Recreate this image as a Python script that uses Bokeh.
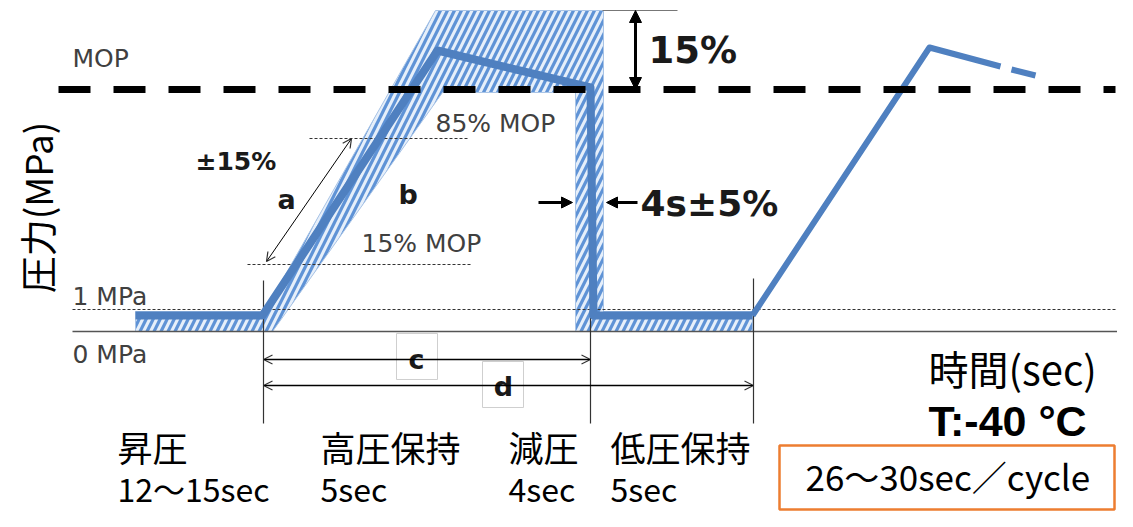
import math
from bokeh.plotting import figure
from bokeh.models import Range1d, Arrow, OpenHead, NormalHead, ColumnDataSource
from bokeh.core.properties import value
from bokeh.embed import file_html
from bokeh.resources import INLINE

# ---- schematic data (t: time-axis units, 0 = start of pressure rise; lvl: pressure-axis units, 0 = 0 MPa)
LVL_1MPA = 22
LVL_15MOP = 67
LVL_85MOP = 193
LVL_MOP = 242
LVL_TOP = 321          # MOP + 15 %

# pressure profile, first cycle
profile_t = [-127, 0, 175, 328, 331, 490]
profile_lvl = [16, 16, 281, 244, 16, 16]
# second cycle (rise + start of high hold)
cycle2_t = [490, 667, 738]
cycle2_lvl = [16, 284, 265]
tail_t = [749, 773]
tail_lvl = [262, 256]

# tolerance envelope (hatched)
envelope_t = [-127, 2, 173, 341, 341, 490, 490, 313, 313, 180, 10, -127]
envelope_lvl = [20, 20, 321, 321, 20, 20, 0, 0, 239, 239, 0, 0]

# reference lines
mop_t = [-204, 853]
mpa1_t = [-190, 855]
base_t = [-190, 855]
mop85_t = [47, 205]
mop15_t = [-15, 210]
top_t = [340, 415]

# phase boundaries (dimension lines)
dim_t = [1, 328, 491]
dim_top = [51, 243, 53]
dim_bottom = -92
dim_c = dict(t0=1, t1=328, lvl=-28)
dim_d = dict(t0=1, t1=491, lvl=-54)

# text labels
small_text = ["MOP", "1 MPa", "0 MPa", "85% MOP", "15% MOP"]
small_t = [-190, -190, -190, 173, 99]
small_lvl = [272.6, 34.6, -23.4, 207.6, 87.6]

phase_names = ["昇圧", "高圧保持", "減圧", "低圧保持"]
phase_times = ["12～15sec", "5sec", "4sec", "5sec"]
phase_t = [-145, 58, 246, 348]

BLUE = "#4f80c0"
HATCH = "#5f93d6"
HFILL = "#e6effa"
GRAY = "#404040"

p = figure(width=1117, height=511, x_range=Range1d(-262, 855), y_range=Range1d(-180, 331),
           x_axis_type=None, y_axis_type=None, toolbar_location=None, output_backend="svg",
           min_border=0)
p.outline_line_color = None
p.grid.visible = False
p.background_fill_color = "white"
p.border_fill_color = "white"

# envelope
p.patch(envelope_t, envelope_lvl, fill_color=HFILL, line_color="#a9c4e6", line_width=1,
        hatch_pattern="/", hatch_color=HATCH, hatch_scale=14, hatch_weight=3.2)

# reference lines
p.line(base_t, [0, 0], line_color="#555555", line_width=1.5)
p.line(mpa1_t, [LVL_1MPA] * 2, line_color="#333333", line_width=1.2, line_dash="3 2")
p.line(mop85_t, [LVL_85MOP] * 2, line_color="#333333", line_width=1.2, line_dash="3 2")
p.line(mop15_t, [LVL_15MOP] * 2, line_color="#333333", line_width=1.2, line_dash="3 2")
p.line(top_t, [LVL_TOP] * 2, line_color="#777777", line_width=1)

# dimension lines
for tt, top in zip(dim_t, dim_top):
    p.line([tt, tt], [top, dim_bottom], line_color="#333333", line_width=1.2)

# pressure profile
p.line(profile_t, profile_lvl, line_color=BLUE, line_width=8, line_join="round")
p.line(cycle2_t, cycle2_lvl, line_color=BLUE, line_width=6, line_join="round")
p.line(tail_t, tail_lvl, line_color=BLUE, line_width=6)

# MOP dashed line
p.line(mop_t, [LVL_MOP] * 2, line_color="black", line_width=7, line_dash="32 23")

# arrows
def arrow(x0, y0, x1, y1, width, head_start, head_end):
    src = ColumnDataSource(dict(x0=[x0], y0=[y0], x1=[x1], y1=[y1]))
    p.add_layout(Arrow(x_start="x0", y_start="y0", x_end="x1", y_end="y1", source=src,
                       line_width=width, line_color="black", start=head_start, end=head_end))

def ohead():
    return OpenHead(size=9, line_color="#333333", line_width=1.2)

def nhead(s):
    return NormalHead(size=s, fill_color="black", line_color="black", line_width=1)

arrow(dim_c["t0"], dim_c["lvl"], dim_c["t1"], dim_c["lvl"], 1.5, ohead(), ohead())
arrow(dim_d["t0"], dim_d["lvl"], dim_d["t1"], dim_d["lvl"], 1.5, ohead(), ohead())
arrow(89, 193, 4, 70, 1, ohead(), ohead())
arrow(373, LVL_TOP, 373, LVL_MOP, 3, nhead(12), nhead(12))
arrow(276, 129, 310, 129, 3, None, nhead(11))
arrow(375, 129, 344, 129, 3, None, nhead(11))

# boxes for c and d
p.rect(x=[154.5, 240.5], y=[-25, -53], width=41, height=46, fill_color="white",
       line_color="#cfcfcf", line_width=1)

# orange cycle box
p.quad(left=[517], right=[852], top=[-114], bottom=[-178], fill_color=None,
       line_color="#ed7d31", line_width=2.5)

# texts
LAT = value("DejaVu Sans")
CJK = value("Noto Sans CJK JP")

p.text(small_t, small_lvl, text=small_text, text_font=LAT, text_font_size=value("25px"),
       text_color=GRAY, text_align="left", text_baseline="alphabetic")

def bold(t, l, s, size, align="left"):
    p.text([t], [l], text=[s], text_font=LAT, text_font_size=value(size), text_font_style="bold",
           text_color="#1a1a1a", text_align=align, text_baseline="alphabetic")

bold(-67, 169.6, "±15%", "25px")
bold(15, 132.3, "a", "27px")
bold(136, 137.3, "b", "27px")
bold(386, 280.8, "15%", "37px")
bold(378, 128.5, "4s±5%", "36px")
bold(154, -27.7, "c", "27px", "center")
bold(241, -54.7, "d", "27px", "center")

p.text([-225.5], [124], text=["圧力(MPa)"], text_font=CJK, text_font_size=value("37px"),
       text_color="black", angle=math.pi / 2, text_align="center", text_baseline="middle")
p.text([666], [-36.6], text=["時間(sec)"], text_font=CJK, text_font_size=value("40px"),
       text_color="black", text_align="left", text_baseline="alphabetic")
p.text([666], [-89.4], text=["T:-40 °C"], text_font=value("Liberation Sans"),
       text_font_size=value("43px"), text_font_style="bold", text_color="black",
       text_align="left", text_baseline="alphabetic")
p.text([543], [-143.5], text=["26～30sec／cycle"], text_font=CJK, text_font_size=value("35px"),
       text_color="black", text_align="left", text_baseline="alphabetic")
p.text(phase_t, [-115] * 4, text=phase_names, text_font=CJK, text_font_size=value("35px"),
       text_color="black", text_align="left", text_baseline="alphabetic")
p.text(phase_t, [-156] * 4, text=phase_times, text_font=CJK, text_font_size=value("32px"),
       text_color="black", text_align="left", text_baseline="alphabetic")

open("out.html", "w").write(file_html(p, INLINE))
